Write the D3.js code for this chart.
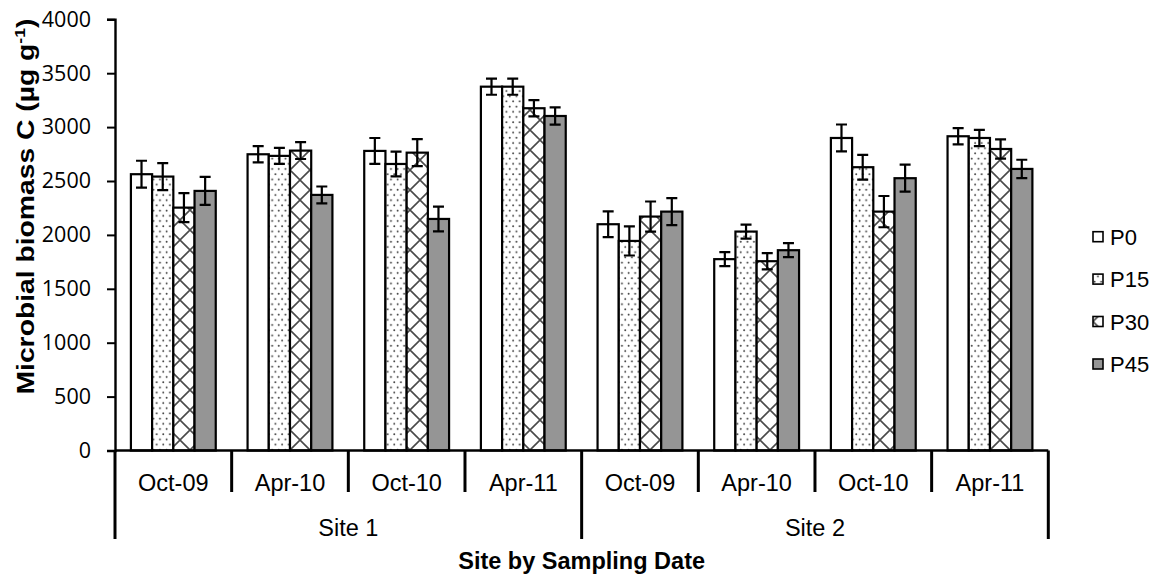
<!DOCTYPE html>
<html>
<head>
<meta charset="utf-8">
<script src="https://cdn.jsdelivr.net/npm/d3@7"></script>
<style>
  html, body { margin: 0; padding: 0; background: #fff; }
  svg { display: block; }
</style>
</head>
<body>
<svg id="chart" width="1162" height="581"></svg>
<script>
// Sampling dates within each site, and the sites themselves
const dates = ["Oct-09", "Apr-10", "Oct-10", "Apr-11"];
const sites = ["Site 1", "Site 2"];
const seriesNames = ["P0", "P15", "P30", "P45"];
const yTicks = [0, 500, 1000, 1500, 2000, 2500, 3000, 3500, 4000];

// Microbial biomass C (µg g-1): Site 1 Oct-09..Apr-11, then Site 2 Oct-09..Apr-11
const p0  = [2563, 2748, 2779, 3375, 2099, 1775, 2899, 2915];
const p15 = [2541, 2733, 2658, 3375, 1944, 2031, 2628, 2899];
const p30 = [2253, 2782, 2763, 3175, 2170, 1756, 2216, 2797];
const p45 = [2408, 2371, 2148, 3103, 2216, 1858, 2526, 2612];

// Standard errors for the same bars
const p0Err  = [125, 75, 120, 75, 120, 65, 125, 75];
const p15Err = [125, 75, 115, 75, 135, 65, 115, 75];
const p30Err = [135, 78, 125, 75, 140, 75, 145, 90];
const p45Err = [130, 78, 115, 80, 125, 65, 125, 85];

const seriesValues = [p0, p15, p30, p45];
const seriesErrors = [p0Err, p15Err, p30Err, p45Err];

// Group keys combine site and date
const groups = [];
sites.forEach(s => dates.forEach(d => groups.push(s + "|" + d)));

const svg = d3.select("#chart");
const plotLeft = 115, plotRight = 1048.3, plotTop = 19.3, plotBottom = 450.5;

const x0 = d3.scaleBand().domain(groups).range([plotLeft, plotRight]).paddingInner(0).paddingOuter(0);
const x1 = d3.scaleBand().domain(seriesNames).range([0, x0.bandwidth()]).paddingInner(0).paddingOuter(0.75);
const y = d3.scaleLinear().domain([0, 4000]).range([plotBottom, plotTop]);

// Fill patterns
const defs = svg.append("defs");
const dots = defs.append("pattern")
  .attr("id", "dots").attr("patternUnits", "userSpaceOnUse")
  .attr("width", 6.6).attr("height", 10.4);
dots.append("rect").attr("width", 6.6).attr("height", 10.4).attr("fill", "#fff");
dots.append("circle").attr("cx", 1.6).attr("cy", 2.6).attr("r", 0.95).attr("fill", "#3a3a3a");
dots.append("circle").attr("cx", 4.9).attr("cy", 7.8).attr("r", 0.95).attr("fill", "#3a3a3a");

const hatch = defs.append("pattern")
  .attr("id", "hatch").attr("patternUnits", "userSpaceOnUse")
  .attr("width", 20).attr("height", 20);
hatch.append("rect").attr("width", 20).attr("height", 20).attr("fill", "#fff");
hatch.append("path").attr("d", "M0,0L20,20M20,0L0,20M-2,18L2,22M18,-2L22,2M-2,2L2,-2M18,22L22,18")
  .attr("stroke", "#4a4a4a").attr("stroke-width", 1.6).attr("fill", "none");

const fills = ["#ffffff", "url(#dots)", "url(#hatch)", "#959595"];

// Bars
const seriesG = svg.append("g").selectAll("g")
  .data(seriesNames.map((name, i) => ({ name, i })))
  .join("g");

seriesG.selectAll("rect")
  .data(s => groups.map((g, j) => ({ g, s, v: seriesValues[s.i][j], e: seriesErrors[s.i][j] })))
  .join("rect")
  .attr("x", d => x0(d.g) + x1(d.s.name))
  .attr("y", d => y(d.v))
  .attr("width", x1.bandwidth())
  .attr("height", d => y(0) - y(d.v))
  .attr("fill", d => fills[d.s.i])
  .attr("stroke", "#000")
  .attr("stroke-width", 2.2);

// Error bars
const capHalf = 5.5;
seriesG.selectAll("path.err")
  .data(s => groups.map((g, j) => ({ g, s, v: seriesValues[s.i][j], e: seriesErrors[s.i][j] })))
  .join("path")
  .attr("class", "err")
  .attr("d", d => {
    const cx = x0(d.g) + x1(d.s.name) + x1.bandwidth() / 2;
    const yt = y(d.v + d.e), yb = y(d.v - d.e);
    return `M${cx},${yt}V${yb}M${cx - capHalf},${yt}H${cx + capHalf}M${cx - capHalf},${yb}H${cx + capHalf}`;
  })
  .attr("stroke", "#000").attr("stroke-width", 2.2).attr("fill", "none");

// Y axis
const yAxis = d3.axisLeft(y).tickValues(yTicks).tickSize(8).tickPadding(16).tickFormat(d3.format("d"));
const yAxisG = svg.append("g").attr("transform", `translate(${plotLeft},0)`).call(yAxis);
yAxisG.select(".domain").attr("stroke", "#000").attr("stroke-width", 2.4);
yAxisG.selectAll(".tick line").attr("stroke", "#000").attr("stroke-width", 2);
yAxisG.selectAll(".tick text")
  .attr("font-family", "'Open Sans', sans-serif").attr("font-size", 21.5).attr("fill", "#000");

// Category axis: baseline, date dividers, site dividers
const axisG = svg.append("g");
axisG.append("line")
  .attr("x1", plotLeft).attr("x2", plotRight).attr("y1", y(0)).attr("y2", y(0))
  .attr("stroke", "#000").attr("stroke-width", 2.4);

const boundaries = groups.map(g => x0(g)).concat([plotRight]);
axisG.selectAll("line.div")
  .data(boundaries)
  .join("line")
  .attr("class", "div")
  .attr("x1", d => d).attr("x2", d => d)
  .attr("y1", y(0))
  .attr("y2", (d, i) => (i % dates.length === 0) ? 539 : 492)
  .attr("stroke", "#000").attr("stroke-width", 3);

axisG.selectAll("text.date")
  .data(groups)
  .join("text")
  .attr("class", "date")
  .attr("x", g => x0(g) + x0.bandwidth() / 2)
  .attr("y", 490.5)
  .attr("text-anchor", "middle")
  .attr("font-family", "'Liberation Sans', Arial, sans-serif")
  .attr("font-size", 23.5)
  .text(g => g.split("|")[1]);

axisG.selectAll("text.site")
  .data(sites)
  .join("text")
  .attr("class", "site")
  .attr("x", s => {
    const first = x0(s + "|" + dates[0]);
    const last = x0(s + "|" + dates[dates.length - 1]) + x0.bandwidth();
    return (first + last) / 2;
  })
  .attr("y", 536)
  .attr("text-anchor", "middle")
  .attr("font-family", "'Liberation Sans', Arial, sans-serif")
  .attr("font-size", 23.5)
  .text(s => s);

// Axis titles
svg.append("text")
  .attr("x", (plotLeft + plotRight) / 2)
  .attr("y", 569)
  .attr("text-anchor", "middle")
  .attr("font-family", "'Liberation Sans', Arial, sans-serif")
  .attr("font-weight", "bold")
  .attr("font-size", 23.5)
  .text("Site by Sampling Date");

const yTitle = svg.append("text")
  .attr("transform", "translate(34,206.5) rotate(-90)")
  .attr("text-anchor", "middle")
  .attr("font-family", "'Liberation Sans', Arial, sans-serif")
  .attr("font-weight", "bold")
  .attr("font-size", 24)
  .attr("textLength", 376)
  .attr("lengthAdjust", "spacingAndGlyphs");
yTitle.append("tspan").text("Microbial biomass C (µg g");
yTitle.append("tspan").attr("font-size", 15).attr("dy", -9).text("-1");
yTitle.append("tspan").attr("dy", 9).text(")");

// Legend
const legendY = [236.7, 279.1, 321.5, 364];
const legend = svg.append("g").selectAll("g")
  .data(seriesNames)
  .join("g")
  .attr("transform", (d, i) => `translate(1093,${legendY[i]})`);
legend.append("rect")
  .attr("x", 0).attr("y", -5).attr("width", 10).attr("height", 10)
  .attr("fill", (d, i) => fills[i])
  .attr("stroke", "#000").attr("stroke-width", 1.6);
legend.append("text")
  .attr("x", 17).attr("y", 8)
  .attr("font-family", "'Liberation Sans', Arial, sans-serif")
  .attr("font-size", 22)
  .text(d => d);
</script>
</body>
</html>
